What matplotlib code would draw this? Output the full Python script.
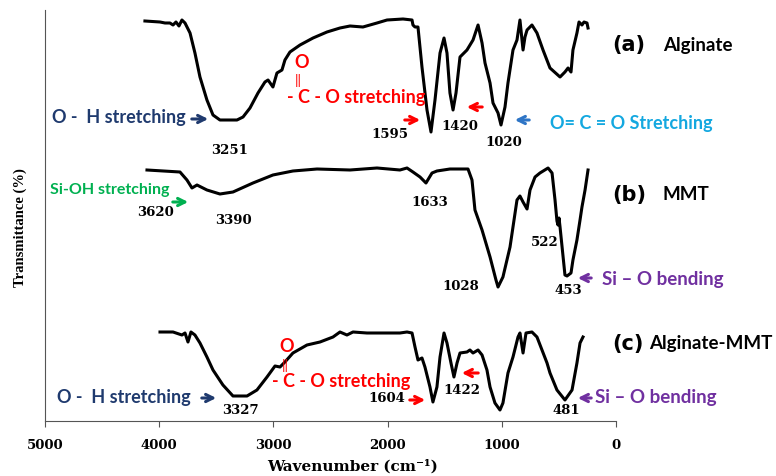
import matplotlib.pyplot as plt

# FTIR spectra, wavenumber (cm-1) vs transmittance (arbitrary units, offset traces)
wn_a = [4125, 3993, 3949, 3906, 3879, 3853, 3827, 3801, 3774, 3730, 3687, 3643,
        3582, 3529, 3468, 3319, 3266, 3205, 3135, 3074, 3047, 3004, 2969, 2925,
        2899, 2855, 2767, 2653, 2531, 2417, 2329, 2216, 2093, 2005, 1865, 1786,
        1778, 1760, 1734, 1699, 1655, 1620, 1585, 1541, 1506, 1480, 1454, 1427,
        1401, 1366, 1305, 1252, 1208, 1173, 1147, 1103, 1077, 1033, 1007, 972,
        946, 902, 867, 841, 814, 797, 779, 736, 692, 639, 578, 490, 447, 420,
        394, 377, 342, 324, 298, 280, 254, 245]
t_a = [400, 399, 398, 398, 396, 399, 395, 401, 398, 388, 368, 344,
       321, 306, 301, 301, 304, 313, 328, 339, 341, 334, 348, 351,
       361, 369, 376, 383, 389, 393, 395, 394, 398, 401, 402, 401,
       396, 394, 394, 354, 311, 289, 321, 368, 383, 368, 328, 311,
       328, 364, 371, 381, 396, 378, 358, 338, 318, 308, 296, 314,
       338, 371, 381, 401, 371, 384, 391, 396, 388, 371, 353, 344, 349, 353,
       349, 371, 388, 399, 396, 399, 398, 393]

wn_b = [4107, 3818, 3757, 3713, 3669, 3582, 3468, 3354, 3179, 3004, 2829, 2618,
        2329, 2093, 1892, 1830, 1778, 1716, 1664, 1611, 1568, 1454, 1296, 1261,
        1235, 1173, 1103, 1051, 1033, 990, 928, 867, 841, 814, 779, 753, 709,
        666, 595, 560, 534, 517, 508, 499, 490, 473, 447, 429, 394, 377, 342,
        315, 298, 271, 245]
t_b = [251, 249, 241, 233, 236, 231, 227, 229, 238, 246, 250, 252,
       251, 253, 251, 253, 249, 244, 238, 248, 250, 252, 252, 241,
       211, 191, 164, 141, 134, 144, 174, 221, 225, 219, 212, 231, 244,
       248, 253, 248, 221, 200, 196, 203, 194, 175, 146, 145, 148, 161, 181,
       201, 214, 231, 251]

wn_c = [3993, 3879, 3801, 3774, 3748, 3722, 3687, 3643, 3582, 3529, 3442, 3354,
        3231, 3144, 3056, 2986, 2942, 2899, 2829, 2706, 2592, 2478, 2417, 2356,
        2303, 2181, 1892, 1830, 1786, 1760, 1734, 1699, 1673, 1629, 1603, 1568,
        1541, 1506, 1480, 1445, 1419, 1392, 1366, 1305, 1279, 1252, 1208, 1173,
        1130, 1103, 1060, 1016, 990, 946, 902, 858, 841, 814, 788, 736, 692,
        648, 604, 578, 517, 447, 385, 342, 315, 289]
t_c = [89, 89, 86, 88, 79, 89, 86, 78, 64, 51, 36, 25,
       25, 31, 44, 55, 54, 59, 68, 76, 79, 84, 89, 86,
       89, 88, 88, 89, 88, 74, 61, 63, 54, 34, 19, 34,
       64, 88, 78, 58, 44, 58, 68, 69, 71, 68, 71, 66,
       51, 34, 18, 11, 18, 48, 64, 84, 88, 68, 88, 89, 84,
       71, 58, 48, 31, 21, 31, 58, 78, 84]

x_ticks = [5000, 4000, 3000, 2000, 1000, 0]

W, H = 776, 476
fig = plt.figure(figsize=(W / 100, H / 100), dpi=100)
ax = fig.add_axes([45 / W, 1 - 421 / H, (616 - 45) / W, (421 - 10) / H])

for wn, t in [(wn_a, t_a), (wn_b, t_b), (wn_c, t_c)]:
    ax.plot(wn, t, color='black', lw=2.2, solid_joinstyle='round')

ax.set_xlim(5000, 0)
ax.set_ylim(0, 411)
ax.set_xticks(x_ticks)
ax.set_xticklabels([str(v) for v in x_ticks], fontweight='bold',
                   family='DejaVu Serif', fontsize=9.5)
ax.set_yticks([])
ax.spines['top'].set_visible(False)
ax.spines['right'].set_visible(False)
ax.spines['left'].set_color('#555555')
ax.spines['bottom'].set_color('#555555')
ax.tick_params(axis='x', direction='out', length=4, color='#555555', pad=9)

serif = ['DejaVu Serif']
fig.text(353 / W, 1 - 466 / H, 'Wavenumber (cm\u207b\u00b9)', ha='center', va='center',
         fontweight='bold', family=serif, fontsize=11)
fig.text(20 / W, 1 - 228 / H, 'Transmittance (%)', ha='center', va='center',
         rotation=90, fontweight='bold', family=['Liberation Serif'], fontsize=10.5)

navy = '#1F3A6E'
red = '#FF0000'
cyan = '#14A8E0'
blue = '#2E75C6'
green = '#00B050'
purple = '#7030A0'
sans = ['Lato', 'DejaVu Sans']


def txt(x, y, s, color='black', size=11, weight='bold', family=sans, ha='left', **kw):
    fig.text(x / W, 1 - y / H, s, color=color, fontsize=size, fontweight=weight,
             family=family, ha=ha, va='center', **kw)


def num(x, y, s):
    txt(x, y, s, size=9.5, family=serif, ha='center')


def arrow(x0, x1, y, color):
    ax.annotate('', xy=(x1 / W, 1 - y / H), xytext=(x0 / W, 1 - y / H),
                xycoords='figure fraction', textcoords='figure fraction',
                arrowprops=dict(arrowstyle='->', color=color, lw=2.2,
                                mutation_scale=13))


# panel titles
txt(612, 45, '(a)', size=15, family=['DejaVu Sans'])
txt(663, 45, 'Alginate', size=13.5)
txt(612, 195, '(b)', size=15, family=['DejaVu Sans'])
txt(663, 195, 'MMT', size=13.5)
txt(612, 344, '(c)', size=15, family=['DejaVu Sans'])
txt(649, 344, 'Alginate-MMT', size=13.5)

# (a) alginate
txt(52, 117, 'O -  H stretching', color=navy, size=13)
arrow(189, 211, 119, navy)
num(230, 150, '3251')
txt(302, 62, 'O', color=red, size=13, ha='center')
txt(298, 80, '||', color=red, size=10, weight='normal', ha='center')
txt(287, 97, '- C - O stretching', color=red, size=13)
arrow(402, 423, 120, red)
num(390, 135, '1595')
num(460, 127, '1420')
arrow(485, 464, 107, red)
num(504, 142, '1020')
arrow(532, 512, 120, blue)
txt(550, 123, 'O= C = O Stretching', color=cyan, size=13)

# (b) MMT
txt(50, 190, 'Si-OH stretching', color=green, size=11.5)
arrow(170, 191, 202, green)
num(156, 212, '3620')
num(233, 220, '3390')
num(430, 203, '1633')
num(545, 243, '522')
num(461, 287, '1028')
num(568, 290, '453')
arrow(594, 575, 278, purple)
txt(602, 279, 'Si \u2013 O bending', color=purple, size=13.5)

# (c) alginate-MMT
txt(57, 397, 'O -  H stretching', color=navy, size=13)
arrow(199, 219, 398, navy)
num(240, 410, '3327')
txt(287, 347, 'O', color=red, size=13, ha='center')
txt(285, 365, '||', color=red, size=10, weight='normal', ha='center')
txt(272, 382, '- C - O stretching', color=red, size=13)
num(387, 398, '1604')
arrow(407, 428, 400, red)
num(462, 391, '1422')
arrow(481, 459, 373, red)
num(566, 410, '481')
arrow(594, 575, 398, purple)
txt(595, 398, 'Si \u2013 O bending', color=purple, size=13.5)

fig.savefig('out.png', dpi=100)
